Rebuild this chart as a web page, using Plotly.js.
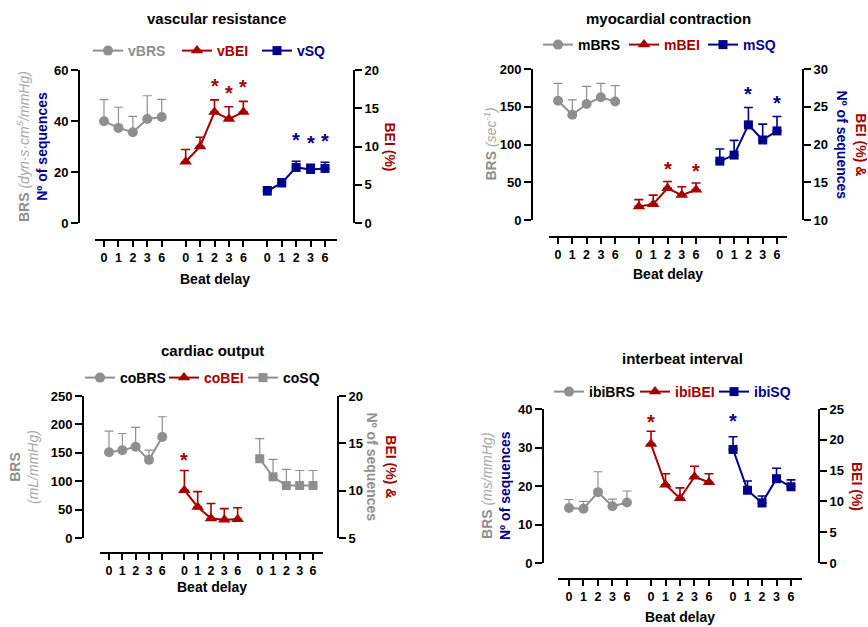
<!DOCTYPE html>
<html>
<head>
<meta charset="utf-8">
<script src="https://cdn.plot.ly/plotly-3.0.1.min.js"></script>
<style>html,body{margin:0;padding:0;background:#fff;}#chart{width:868px;height:627px;}</style>
</head>
<body>
<div id="chart"></div>
<script>
// ---------- DATA ----------
const beats = ['0', '1', '2', '3', '6'];

// vascular resistance
const vBRS = [39.9, 37.3, 35.6, 40.8, 41.6];
const vBRS_sd = [8.5, 8.1, 6.2, 9.1, 6.9];
const vBEI = [8.0, 10.0, 14.5, 13.6, 14.5];
const vBEI_sd = [1.6, 1.2, 1.6, 1.6, 1.4];
const vSQ = [12.5, 15.7, 21.8, 21.0, 21.4];
const vSQ_sd = [1.7, 1.6, 2.4, 2.0, 2.4];
const vBEI_sig = [0, 0, 1, 1, 1];
const vSQ_sig = [0, 0, 1, 1, 1];

// myocardial contraction
const mBRS = [158, 139.5, 153.6, 162.5, 157];
const mBRS_sd = [23, 19.5, 23.4, 18.5, 21];
const mBEI = [11.8, 12.1, 14.2, 13.3, 14.0];
const mBEI_sd = [0.9, 1.2, 0.9, 1.1, 0.9];
const mSQ = [17.8, 18.6, 22.6, 20.6, 21.8];
const mSQ_sd = [1.6, 1.95, 2.3, 2.1, 1.9];
const mBEI_sig = [0, 0, 1, 0, 1];
const mSQ_sig = [0, 0, 1, 0, 1];

// cardiac output
const coBRS = [151, 154.7, 160.6, 137.6, 178];
const coBRS_sd = [37, 29.3, 34.1, 17.1, 35.5];
const coBEI = [10.05, 8.28, 7.05, 6.94, 6.98];
const coBEI_sd = [2.08, 1.62, 1.59, 1.16, 1.22];
const coSQ = [13.37, 11.46, 10.54, 10.54, 10.54];
const coSQ_sd = [2.13, 1.84, 1.7, 1.59, 1.59];
const coBEI_sig = [1, 0, 0, 0, 0];

// interbeat interval
const ibiBRS = [14.3, 14.1, 18.4, 14.75, 15.7];
const ibiBRS_sd = [2.2, 1.9, 5.3, 1.85, 3.0];
const ibiBEI = [19.3, 12.7, 10.5, 14.0, 13.1];
const ibiBEI_sd = [2.1, 1.8, 1.7, 1.7, 1.4];
const ibiSQ = [29.5, 18.9, 15.6, 21.9, 19.8];
const ibiSQ_sd = [3.3, 2.4, 1.8, 2.7, 1.8];
const ibiBEI_sig = [1, 0, 0, 0, 0];
const ibiSQ_sig = [1, 0, 0, 0, 0];

// ---------- STYLE ----------
const W = 868, H = 627;
const FONT = 'Liberation Sans, Arial, Helvetica, sans-serif';
const GRAY = '#8f8f8f', LGRAY = '#a8a8a8', RED = '#a50000', NAVY = '#00008c', BLACK = '#000';
const GAP = 5.66;
const X = px => px / W;
const Y = py => 1 - py / H;

const panels = [
  {xa: 'x', yl: 'y', yr: 'y2', leg: 'legend',
   dom: [95, 337], first: 104, last: 325, yTop: 70, yBot: 223, xLineY: 240, leftX: 79, rightX: 354,
   lRange: [0, 60], lDtick: 20, rRange: [0, 20], rDtick: 5,
   title: 'vascular resistance', titleXY: [216, 19], xtXY: [215, 279], legXY: [88, 51], legW: [44, 35, 35],
   ltitle: {x: 31.5, text: '<span style="color:' + GRAY + '"><b>BRS</b> <i style="color:' + LGRAY + '">(dyn·s·cm<sup>5</sup>/mmHg)</i></span><br><b><span style="color:' + NAVY + '">Nº of sequences</span></b>'},
   rtitle: {x: 390, text: '<b><span style="color:' + RED + '">BEI (%)</span></b>'},
   series: [
     {name: 'vBRS', y: vBRS, sd: vBRS_sd, side: 'l', g: 0, color: GRAY, sym: 'circle', tcol: GRAY},
     {name: 'vBEI', y: vBEI, sd: vBEI_sd, side: 'r', g: 1, color: RED, sym: 'triangle-up', tcol: RED, sig: vBEI_sig, so: 14},
     {name: 'vSQ', y: vSQ, sd: vSQ_sd, side: 'l', g: 2, color: NAVY, sym: 'square', tcol: NAVY, sig: vSQ_sig, so: 21}
   ]},
  {xa: 'x2', yl: 'y3', yr: 'y4', leg: 'legend2',
   dom: [549, 787], first: 558, last: 777, yTop: 69, yBot: 220, xLineY: 237, leftX: 532, rightX: 803,
   lRange: [0, 200], lDtick: 50, rRange: [10, 30], rDtick: 5,
   title: 'myocardial contraction', titleXY: [668, 19], xtXY: [668, 274], legXY: [538, 45], legW: [41, 34, 34],
   ltitle: {x: 490, text: '<span style="color:' + GRAY + '"><b>BRS</b> <i style="color:' + LGRAY + '">(sec<sup>-1</sup>)</i></span>'},
   rtitle: {x: 852, text: '<b><span style="color:' + RED + '">BEI (%) &amp;</span><br><span style="color:' + NAVY + '">Nº of sequences</span></b>'},
   series: [
     {name: 'mBRS', y: mBRS, sd: mBRS_sd, side: 'l', g: 0, color: GRAY, sym: 'circle', tcol: BLACK},
     {name: 'mBEI', y: mBEI, sd: mBEI_sd, side: 'r', g: 1, color: RED, sym: 'triangle-up', tcol: RED, sig: mBEI_sig, so: 12},
     {name: 'mSQ', y: mSQ, sd: mSQ_sd, side: 'r', g: 2, color: NAVY, sym: 'square', tcol: NAVY, sig: mSQ_sig, so: 14}
   ]},
  {xa: 'x3', yl: 'y5', yr: 'y6', leg: 'legend3',
   dom: [100, 323], first: 109, last: 313, yTop: 396, yBot: 538, xLineY: 553, leftX: 83, rightX: 338,
   lRange: [0, 250], lDtick: 50, rRange: [5, 20], rDtick: 5,
   title: 'cardiac output', titleXY: [212, 350], xtXY: [212, 587], legXY: [80, 378], legW: [39, 34, 34],
   ltitle: {x: 24, text: '<span style="color:' + GRAY + '"><b>BRS</b><br><i style="color:' + LGRAY + '">(mL/mmHg)</i></span>'},
   rtitle: {x: 381.5, text: '<b><span style="color:' + RED + '">BEI (%) &amp;</span><br><span style="color:' + GRAY + '">Nº of sequences</span></b>'},
   series: [
     {name: 'coBRS', y: coBRS, sd: coBRS_sd, side: 'l', g: 0, color: GRAY, sym: 'circle', tcol: BLACK},
     {name: 'coBEI', y: coBEI, sd: coBEI_sd, side: 'r', g: 1, color: RED, sym: 'triangle-up', tcol: RED, sig: coBEI_sig, so: 11},
     {name: 'coSQ', y: coSQ, sd: coSQ_sd, side: 'r', g: 2, color: GRAY, sym: 'square', tcol: BLACK}
   ]},
  {xa: 'x4', yl: 'y7', yr: 'y8', leg: 'legend4',
   dom: [558, 802], first: 569, last: 791, yTop: 409, yBot: 563, xLineY: 579, leftX: 543, rightX: 819,
   lRange: [0, 40], lDtick: 10, rRange: [0, 25], rDtick: 5,
   title: 'interbeat interval', titleXY: [682, 359], xtXY: [680, 617], legXY: [549, 392], legW: [41, 34, 34],
   ltitle: {x: 496, text: '<span style="color:' + GRAY + '"><b>BRS</b> <i style="color:' + LGRAY + '">(ms/mmHg)</i></span><br><b><span style="color:' + NAVY + '">Nº of sequences</span></b>'},
   rtitle: {x: 857, text: '<b><span style="color:' + RED + '">BEI (%)</span></b>'},
   series: [
     {name: 'ibiBRS', y: ibiBRS, sd: ibiBRS_sd, side: 'l', g: 0, color: GRAY, sym: 'circle', tcol: BLACK},
     {name: 'ibiBEI', y: ibiBEI, sd: ibiBEI_sd, side: 'r', g: 1, color: RED, sym: 'triangle-up', tcol: RED, sig: ibiBEI_sig, so: 9},
     {name: 'ibiSQ', y: ibiSQ, sd: ibiSQ_sd, side: 'l', g: 2, color: NAVY, sym: 'square', tcol: NAVY, sig: ibiSQ_sig, so: 16}
   ]}
];

const traces = [];
const annotations = [];
const layout = {
  width: W, height: H,
  margin: {l: 0, r: 0, t: 0, b: 0},
  paper_bgcolor: '#fff', plot_bgcolor: 'rgba(0,0,0,0)',
  font: {family: FONT, color: BLACK},
  showlegend: true,
  annotations: annotations
};

const axKey = id => id.replace(/^x/, 'xaxis').replace(/^y/, 'yaxis');
const sizes = {'circle': 10, 'triangle-up': 11, 'square': 9};

panels.forEach(p => {
  const span = 4 + 2 * GAP;
  const s = (p.last - p.first) / span;
  const r0 = -(p.first - p.dom[0]) / s;
  const r1 = span + (p.dom[1] - p.last) / s;
  const tickvals = [], ticktext = [];
  for (let g = 0; g < 3; g++) beats.forEach((b, i) => { tickvals.push(g * GAP + i); ticktext.push(b); });

  layout[axKey(p.xa)] = {
    domain: [X(p.dom[0]), X(p.dom[1])], range: [r0, r1], anchor: 'free', position: Y(p.xLineY),
    tickmode: 'array', tickvals: tickvals, ticktext: ticktext,
    showline: true, linewidth: 2, linecolor: BLACK, ticks: 'outside', ticklen: 6, tickwidth: 2, tickcolor: BLACK,
    tickfont: {family: FONT, size: 12.5, weight: 'bold', color: BLACK},
    showgrid: false, zeroline: false, fixedrange: true
  };
  const yDom = [Y(p.yBot), Y(p.yTop)];
  const yCommon = {
    showline: true, linewidth: 2, linecolor: BLACK, ticks: 'outside', ticklen: 7, tickwidth: 2, tickcolor: BLACK,
    tickfont: {family: FONT, size: 13, weight: 'bold', color: BLACK},
    showgrid: false, zeroline: false, fixedrange: true, anchor: 'free', domain: yDom
  };
  layout[axKey(p.yl)] = Object.assign({}, yCommon, {range: p.lRange, dtick: p.lDtick, tick0: p.lRange[0], side: 'left', position: X(p.leftX)});
  layout[axKey(p.yr)] = Object.assign({}, yCommon, {range: p.rRange, dtick: p.rDtick, tick0: p.rRange[0], side: 'right', position: X(p.rightX), overlaying: p.yl});

  layout[p.leg] = {
    x: X(p.legXY[0]), y: Y(p.legXY[1]), xanchor: 'left', yanchor: 'middle', orientation: 'h',
    font: {family: FONT, size: 14, weight: 'bold', color: BLACK},
    bgcolor: 'rgba(0,0,0,0)', borderwidth: 0, traceorder: 'normal', itemclick: false, itemdoubleclick: false
  };

  p.series.forEach((sr, k) => {
    const xs = beats.map((b, i) => sr.g * GAP + i);
    const ya = sr.side === 'l' ? p.yl : p.yr;
    traces.push({
      type: 'scatter', mode: 'lines+markers',
      name: '<span style="color:' + sr.tcol + '">' + sr.name + '</span>',
      x: xs, y: sr.y, xaxis: p.xa, yaxis: ya, legend: p.leg, legendwidth: p.legW[k],
      line: {color: sr.color, width: 2},
      marker: {symbol: sr.sym, size: sizes[sr.sym], color: sr.color, line: {width: 0}},
      error_y: {type: 'data', symmetric: false, array: sr.sd, arrayminus: sr.sd.map(() => 0), color: sr.color,
                thickness: sr.color === GRAY ? 1.2 : 1.6, width: 4.5},
      cliponaxis: false, hoverinfo: 'skip'
    });
    if (sr.sig) {
      sr.sig.forEach((f, i) => {
        if (!f) return;
        annotations.push({
          xref: p.xa, yref: ya, x: xs[i], y: sr.y[i] + sr.sd[i], yshift: sr.so,
          text: '<b>*</b>', showarrow: false, xanchor: 'center', yanchor: 'middle',
          font: {family: FONT, size: 20, color: sr.color}
        });
      });
    }
  });

  // panel title
  annotations.push({xref: 'paper', yref: 'paper', x: X(p.titleXY[0]), y: Y(p.titleXY[1]), xanchor: 'center', yanchor: 'middle',
    text: '<b>' + p.title + '</b>', showarrow: false, font: {family: FONT, size: 15, color: BLACK}});
  // x title
  annotations.push({xref: 'paper', yref: 'paper', x: X(p.xtXY[0]), y: Y(p.xtXY[1]), xanchor: 'center', yanchor: 'middle',
    text: '<b>Beat delay</b>', showarrow: false, font: {family: FONT, size: 14, color: BLACK}});
  const yMid = Y((p.yTop + p.yBot) / 2);
  annotations.push({xref: 'paper', yref: 'paper', x: X(p.ltitle.x), y: yMid, xanchor: 'center', yanchor: 'middle',
    text: p.ltitle.text, textangle: -90, showarrow: false, align: 'center', font: {family: FONT, size: 14, color: GRAY}});
  annotations.push({xref: 'paper', yref: 'paper', x: X(p.rtitle.x), y: yMid, xanchor: 'center', yanchor: 'middle',
    text: p.rtitle.text, textangle: 90, showarrow: false, align: 'center', font: {family: FONT, size: 14, color: RED}});
});

Plotly.newPlot('chart', traces, layout, {staticPlot: true, displayModeBar: false});
</script>
</body>
</html>
